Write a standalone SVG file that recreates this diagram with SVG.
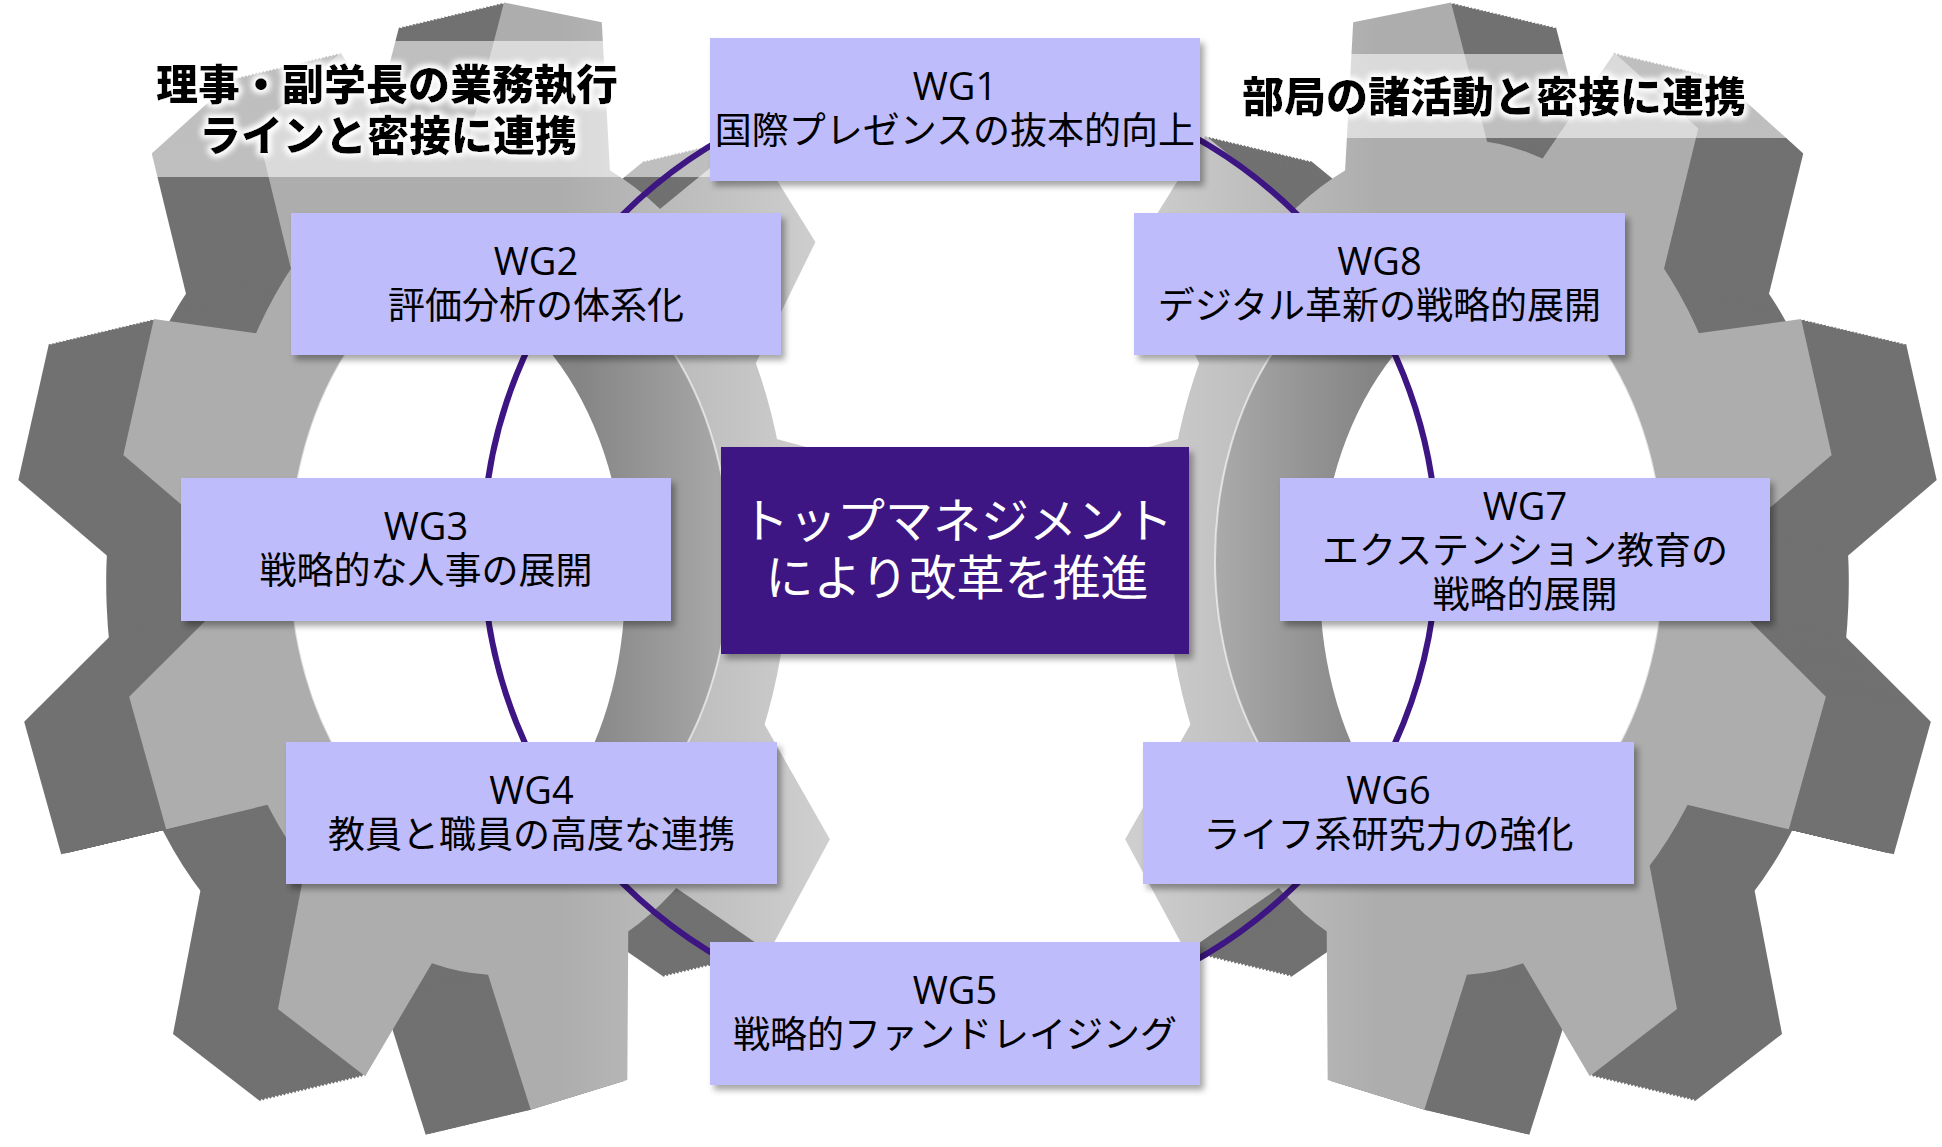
<svg xmlns="http://www.w3.org/2000/svg" width="1942" height="1147" viewBox="0 0 1942 1147">
  <defs>
    <style>
      .box { fill: #bfbcfc; filter: url(#shadow); }
      .core { fill: #3d1683; filter: url(#shadow); }
      .lbl { font-family: 'Noto Sans CJK JP', 'Noto Sans', sans-serif; font-size: 37px; fill: #000; text-anchor: middle; }
      .wg { font-family: 'Open Sans', 'Noto Sans', sans-serif; font-size: 38px; }
      .coreText { font-family: 'Noto Sans CJK JP', 'Noto Sans', sans-serif; font-size: 48px; fill: #fff; text-anchor: middle; }
      .title { font-family: 'Noto Sans CJK JP', sans-serif; font-size: 42px; font-weight: 900; fill: #000; text-anchor: middle; filter: url(#glow); }
      .dark { fill: #717171; }
      .band { fill: #fff; opacity: 0.55; }
    </style>

    <filter id="shadow" x="-5%" y="-10%" width="115%" height="130%">
      <feDropShadow dx="4" dy="5" stdDeviation="3" flood-color="#000" flood-opacity="0.35"/>
    </filter>

    <filter id="glow" x="-10%" y="-40%" width="120%" height="180%">
      <feMorphology in="SourceAlpha" operator="dilate" radius="2" result="thick"/>
      <feGaussianBlur in="thick" stdDeviation="3" result="soft"/>
      <feFlood flood-color="#fff"/>
      <feComposite in2="soft" operator="in" result="halo"/>
      <feMerge>
        <feMergeNode in="halo"/>
        <feMergeNode in="halo"/>
        <feMergeNode in="SourceGraphic"/>
      </feMerge>
    </filter>

    <!-- unit gear: body + 9 chunky teeth, outer radius 100 -->
    <g id="gear">
      <circle r="76"/>
      <polygon id="tooth" points="-19,-73 -13,-100 13,-100 19,-73"/>
      <use href="#tooth" transform="rotate(40)"/>
      <use href="#tooth" transform="rotate(80)"/>
      <use href="#tooth" transform="rotate(120)"/>
      <use href="#tooth" transform="rotate(160)"/>
      <use href="#tooth" transform="rotate(200)"/>
      <use href="#tooth" transform="rotate(240)"/>
      <use href="#tooth" transform="rotate(280)"/>
      <use href="#tooth" transform="rotate(320)"/>
    </g>
    <!-- gear laid out at screen scale, left-hand and mirrored -->
    <use id="gL" href="#gear" transform="scale(3.8,5.5) rotate(8)"/>
    <use id="gR" href="#gear" transform="scale(-3.8,5.5) rotate(8)"/>

    <linearGradient id="faceL" gradientUnits="userSpaceOnUse" x1="560" y1="0" x2="880" y2="0">
      <stop offset="0" stop-color="#adadad"/>
      <stop offset="1" stop-color="#d6d6d6"/>
    </linearGradient>
    <linearGradient id="faceR" gradientUnits="userSpaceOnUse" x1="1380" y1="0" x2="1075" y2="0">
      <stop offset="0" stop-color="#adadad"/>
      <stop offset="1" stop-color="#d6d6d6"/>
    </linearGradient>
    <linearGradient id="wallL" gradientUnits="userSpaceOnUse" x1="580" y1="0" x2="735" y2="0">
      <stop offset="0" stop-color="#858585"/>
      <stop offset="1" stop-color="#ababab"/>
    </linearGradient>
    <linearGradient id="wallR" gradientUnits="userSpaceOnUse" x1="1370" y1="0" x2="1212" y2="0">
      <stop offset="0" stop-color="#858585"/>
      <stop offset="1" stop-color="#ababab"/>
    </linearGradient>

    <mask id="faceMaskL" maskUnits="userSpaceOnUse" x="0" y="0" width="1942" height="1147">
      <use href="#gL" fill="#fff" x="500" y="557"/>
    </mask>
    <mask id="faceMaskR" maskUnits="userSpaceOnUse" x="0" y="0" width="1942" height="1147">
      <use href="#gR" fill="#fff" x="1455" y="557"/>
    </mask>

    <clipPath id="holeL"><ellipse cx="510" cy="560" rx="220" ry="310"/></clipPath>
    <clipPath id="holeR"><ellipse cx="1439" cy="560" rx="224" ry="310"/></clipPath>
  </defs>

  <rect width="1942" height="1147" fill="#fff"/>

  <!-- left gear: extruded body (stacked slices), front face, bore -->
  <g id="gear-left">
    <g class="dark">
      <use href="#gL" x="395" y="582"/>
      <use href="#gL" x="398.5" y="581.2"/>
      <use href="#gL" x="402" y="580.3"/>
      <use href="#gL" x="405.5" y="579.5"/>
      <use href="#gL" x="409" y="578.7"/>
      <use href="#gL" x="412.5" y="577.8"/>
      <use href="#gL" x="416" y="577"/>
      <use href="#gL" x="419.5" y="576.2"/>
      <use href="#gL" x="423" y="575.3"/>
      <use href="#gL" x="426.5" y="574.5"/>
      <use href="#gL" x="430" y="573.7"/>
      <use href="#gL" x="433.5" y="572.8"/>
      <use href="#gL" x="437" y="572"/>
      <use href="#gL" x="440.5" y="571.2"/>
      <use href="#gL" x="444" y="570.3"/>
      <use href="#gL" x="447.5" y="569.5"/>
      <use href="#gL" x="451" y="568.7"/>
      <use href="#gL" x="454.5" y="567.8"/>
      <use href="#gL" x="458" y="567"/>
      <use href="#gL" x="461.5" y="566.2"/>
      <use href="#gL" x="465" y="565.3"/>
      <use href="#gL" x="468.5" y="564.5"/>
      <use href="#gL" x="472" y="563.7"/>
      <use href="#gL" x="475.5" y="562.8"/>
      <use href="#gL" x="479" y="562"/>
      <use href="#gL" x="482.5" y="561.2"/>
      <use href="#gL" x="486" y="560.3"/>
      <use href="#gL" x="489.5" y="559.5"/>
      <use href="#gL" x="493" y="558.7"/>
      <use href="#gL" x="496.5" y="557.8"/>
    </g>
    <rect x="0" y="0" width="1000" height="1147" fill="url(#faceL)" mask="url(#faceMaskL)"/>
    <ellipse cx="510" cy="560" rx="220" ry="310" fill="url(#wallL)" stroke="#fff" stroke-opacity="0.6" stroke-width="2"/>
    <ellipse cx="405" cy="585" rx="220" ry="310" fill="#fff" clip-path="url(#holeL)"/>
  </g>

  <!-- right gear (mirrored) -->
  <g id="gear-right">
    <g class="dark">
      <use href="#gR" x="1560" y="582"/>
      <use href="#gR" x="1556.5" y="581.2"/>
      <use href="#gR" x="1553" y="580.3"/>
      <use href="#gR" x="1549.5" y="579.5"/>
      <use href="#gR" x="1546" y="578.7"/>
      <use href="#gR" x="1542.5" y="577.8"/>
      <use href="#gR" x="1539" y="577"/>
      <use href="#gR" x="1535.5" y="576.2"/>
      <use href="#gR" x="1532" y="575.3"/>
      <use href="#gR" x="1528.5" y="574.5"/>
      <use href="#gR" x="1525" y="573.7"/>
      <use href="#gR" x="1521.5" y="572.8"/>
      <use href="#gR" x="1518" y="572"/>
      <use href="#gR" x="1514.5" y="571.2"/>
      <use href="#gR" x="1511" y="570.3"/>
      <use href="#gR" x="1507.5" y="569.5"/>
      <use href="#gR" x="1504" y="568.7"/>
      <use href="#gR" x="1500.5" y="567.8"/>
      <use href="#gR" x="1497" y="567"/>
      <use href="#gR" x="1493.5" y="566.2"/>
      <use href="#gR" x="1490" y="565.3"/>
      <use href="#gR" x="1486.5" y="564.5"/>
      <use href="#gR" x="1483" y="563.7"/>
      <use href="#gR" x="1479.5" y="562.8"/>
      <use href="#gR" x="1476" y="562"/>
      <use href="#gR" x="1472.5" y="561.2"/>
      <use href="#gR" x="1469" y="560.3"/>
      <use href="#gR" x="1465.5" y="559.5"/>
      <use href="#gR" x="1462" y="558.7"/>
      <use href="#gR" x="1458.5" y="557.8"/>
    </g>
    <rect x="950" y="0" width="992" height="1147" fill="url(#faceR)" mask="url(#faceMaskR)"/>
    <ellipse cx="1439" cy="560" rx="224" ry="310" fill="url(#wallR)" stroke="#fff" stroke-opacity="0.6" stroke-width="2"/>
    <ellipse cx="1544" cy="585" rx="224" ry="310" fill="#fff" clip-path="url(#holeR)"/>
  </g>

  <!-- translucent title bands -->
  <rect class="band" x="120" y="41" width="590" height="136"/>
  <rect class="band" x="1230" y="54" width="712" height="84"/>

  <g id="title-left">
    <text class="title" x="387" y="100">理事・副学長の業務執行<tspan x="388" y="151">ラインと密接に連携</tspan></text>
  </g>
  <g id="title-right">
    <text class="title" x="1494" y="112">部局の諸活動と密接に連携</text>
  </g>

  <!-- ring linking all working groups -->
  <g id="connectors">
    <ellipse cx="960" cy="549" rx="477" ry="473" fill="none" stroke="#3d1683" stroke-width="6"/>
  </g>

  <g id="wg1">
    <rect class="box" x="710" y="38" width="490" height="143"/>
    <text class="lbl" x="955" y="100"><tspan class="wg">WG1</tspan><tspan x="955" y="144">国際プレゼンスの抜本的向上</tspan></text>
  </g>
  <g id="wg2">
    <rect class="box" x="291" y="213" width="490" height="142"/>
    <text class="lbl" x="536" y="275"><tspan class="wg">WG2</tspan><tspan x="536" y="319">評価分析の体系化</tspan></text>
  </g>
  <g id="wg3">
    <rect class="box" x="181" y="478" width="490" height="143"/>
    <text class="lbl" x="426" y="540"><tspan class="wg">WG3</tspan><tspan x="426" y="584">戦略的な人事の展開</tspan></text>
  </g>
  <g id="wg4">
    <rect class="box" x="286" y="742" width="491" height="142"/>
    <text class="lbl" x="531.5" y="804"><tspan class="wg">WG4</tspan><tspan x="531.5" y="848">教員と職員の高度な連携</tspan></text>
  </g>
  <g id="wg5">
    <rect class="box" x="710" y="942" width="490" height="143"/>
    <text class="lbl" x="955" y="1004"><tspan class="wg">WG5</tspan><tspan x="955" y="1048">戦略的ファンドレイジング</tspan></text>
  </g>
  <g id="wg6">
    <rect class="box" x="1143" y="742" width="491" height="142"/>
    <text class="lbl" x="1388.5" y="804"><tspan class="wg">WG6</tspan><tspan x="1388.5" y="848">ライフ系研究力の強化</tspan></text>
  </g>
  <g id="wg7">
    <rect class="box" x="1280" y="478" width="490" height="143"/>
    <text class="lbl" x="1525" y="520"><tspan class="wg">WG7</tspan><tspan x="1525" y="564">エクステンション教育の</tspan><tspan x="1525" y="608">戦略的展開</tspan></text>
  </g>
  <g id="wg8">
    <rect class="box" x="1134" y="213" width="491" height="142"/>
    <text class="lbl" x="1379.5" y="275"><tspan class="wg">WG8</tspan><tspan x="1379.5" y="319">デジタル革新の戦略的展開</tspan></text>
  </g>

  <g id="core">
    <rect class="core" x="721" y="447" width="468" height="207"/>
    <text class="coreText" x="957" y="538">トップマネジメント<tspan x="957" y="595">により改革を推進</tspan></text>
  </g>
</svg>
